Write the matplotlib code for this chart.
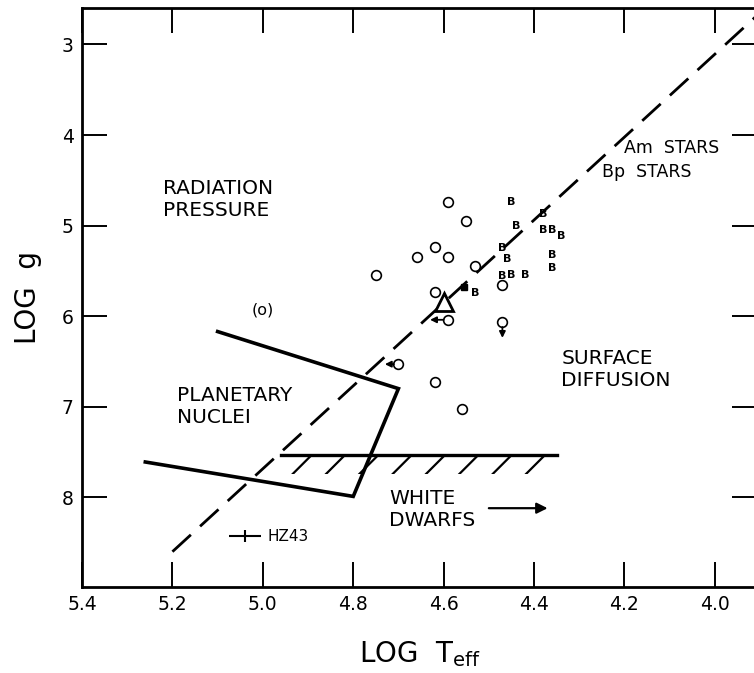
import numpy as np
import matplotlib
matplotlib.use('Agg')
import matplotlib.pyplot as plt

# open circles (log Teff, log g)
circ_x = [4.75, 4.66, 4.62, 4.59, 4.59, 4.55, 4.53, 4.62, 4.47, 4.62, 4.56]
circ_y = [5.54, 5.35, 5.24, 5.35, 4.74, 4.95, 5.45, 5.73, 5.66, 6.73, 7.03]

# circles with limit arrows: circle position and arrow tip
lim_circ_x = [4.59, 4.70, 4.47]
lim_circ_y = [6.04, 6.53, 6.06]
lim_tip_x = [4.63, 4.73, 4.47]
lim_tip_y = [6.04, 6.53, 6.24]

# Bp stars, plotted as letter B
b_x = [4.45, 4.38, 4.44, 4.38, 4.36, 4.34, 4.47, 4.46, 4.36, 4.36, 4.47, 4.45, 4.42, 4.53]
b_y = [4.74, 4.87, 5.00, 5.05, 5.05, 5.12, 5.25, 5.37, 5.32, 5.47, 5.56, 5.55, 5.54, 5.74]

tri_x, tri_y = 4.60, 5.84
sq_x, sq_y = 4.555, 5.68

# HZ43
hz_x, hz_y, hz_err = 5.04, 8.43, 0.035

# boundary between radiation pressure and surface diffusion
div_x = [5.20, 3.90]
div_y = [8.60, 2.65]

# planetary nuclei track
pn_x = [5.10, 4.70, 4.80, 5.26]
pn_y = [6.17, 6.80, 7.99, 7.61]

# white dwarf edge
wd_x = [4.96, 4.35]
wd_y = 7.53

xticks = [5.4, 5.2, 5.0, 4.8, 4.6, 4.4, 4.2, 4.0]
yticks = [3, 4, 5, 6, 7, 8]

plt.rcParams['font.family'] = ['DejaVu Sans']
plt.rcParams['hatch.linewidth'] = 1.6

fig = plt.figure(figsize=(7.54, 6.73), dpi=100)
ax = fig.add_axes([0.1088, 0.1278, 0.895, 0.860])
ax.set_xlim(5.4, 3.907)
ax.set_ylim(8.99, 2.60)

# dashed divide
ax.plot(div_x, div_y, color='black', lw=2.0, dashes=(9, 4.5), solid_capstyle='butt')

# planetary nuclei
ax.plot(pn_x, pn_y, color='black', lw=2.6, solid_joinstyle='miter')

# white dwarf edge with hatching
ax.plot(wd_x, [wd_y, wd_y], color='black', lw=2.4)
ax.fill_between([wd_x[0] - 0.01, wd_x[1] + 0.01], wd_y + 0.03, wd_y + 0.21,
                facecolor='none', edgecolor='black', hatch='/', linewidth=0)

ax.plot(circ_x, circ_y, 'o', mfc='white', mec='black', ms=7, mew=1.2, ls='none')
ax.plot(lim_circ_x, lim_circ_y, 'o', mfc='white', mec='black', ms=7, mew=1.2, ls='none')
for x0, y0, x1, y1 in zip(lim_circ_x, lim_circ_y, lim_tip_x, lim_tip_y):
    if y1 == y0:
        start = (x0 + 0.01, y0)
    else:
        start = (x0, y0 + 0.06)
    ax.annotate('', xy=(x1, y1), xytext=start,
                arrowprops=dict(arrowstyle='-|>', color='black', lw=1.3,
                                mutation_scale=9, shrinkA=0, shrinkB=0))

for x, y in zip(b_x, b_y):
    ax.text(x, y, 'B', fontsize=8, fontweight='bold', ha='center', va='center')

ax.plot(tri_x, tri_y, '^', mfc='white', mec='black', ms=13, mew=2)
ax.plot(sq_x, sq_y, 's', color='black', ms=5)

ax.errorbar(hz_x, hz_y, xerr=hz_err, fmt='none', ecolor='black', elinewidth=1.5, capsize=0)
ax.plot(hz_x, hz_y, '|', color='black', ms=8, mew=1.5)
ax.text(hz_x - 0.05, hz_y, 'HZ43', fontsize=11, va='center', ha='left')

ax.text(5.0, 5.93, '(o)', fontsize=11.5, ha='center', va='center')

lab = dict(fontsize=14.5, ha='left', va='center', linespacing=1.2)
ax.text(5.22, 4.71, 'RADIATION\nPRESSURE', **lab)
ax.text(5.19, 7.0, 'PLANETARY\nNUCLEI', **lab)
ax.text(4.34, 6.59, 'SURFACE\nDIFFUSION', **lab)
ax.text(4.72, 8.13, 'WHITE\nDWARFS', **lab)
ax.text(4.20, 4.14, 'Am  STARS', fontsize=12.5, ha='left', va='center')
ax.text(4.25, 4.41, 'Bp  STARS', fontsize=12.5, ha='left', va='center')

ax.annotate('', xy=(4.37, 8.12), xytext=(4.50, 8.12),
            arrowprops=dict(arrowstyle='-|>', color='black', lw=1.6,
                            mutation_scale=16, shrinkA=0, shrinkB=0))

ax.set_xticks(xticks)
ax.set_xticklabels([f'{t:.1f}' for t in xticks])
ax.set_yticks(yticks)
ax.tick_params(direction='in', length=18, width=1.4, labelsize=13.5,
               top=True, right=True, pad=6)
for s in ax.spines.values():
    s.set_linewidth(2.0)

ax.set_xlabel('LOG  T$_{\\rm eff}$', fontsize=20, labelpad=18)
ax.set_ylabel('LOG  g', fontsize=20, labelpad=14)

fig.savefig('out.png', dpi=100)
